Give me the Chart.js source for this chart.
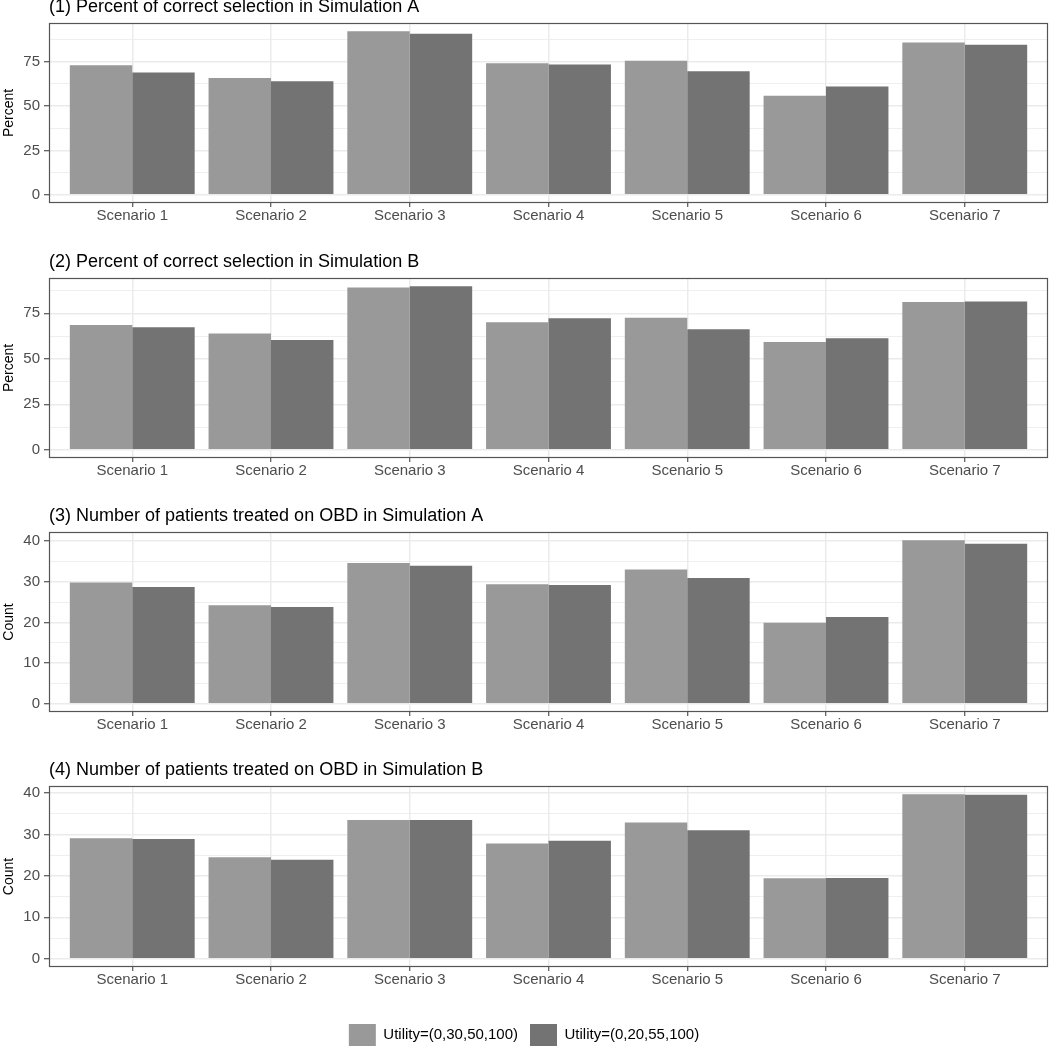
<!DOCTYPE html>
<html lang="en">
<head>
<meta charset="UTF-8">
<title>Simulation results</title>
<script src="https://cdn.jsdelivr.net/npm/chart.js"></script>
<style>
    body {
        margin: 0;
        background: #fff;
        font-family: 'Liberation Sans', Arial, sans-serif;
    }
    #wrap {
        position: relative;
        width: 1050px;
        height: 1046px;
        overflow: hidden;
    }
    canvas {
        position: absolute;
        left: 0;
    }
</style>
</head>
<body>
<div id="wrap">
    <canvas id="p1" width="1050" height="231" style="top:-4px"></canvas>
    <canvas id="p2" width="1050" height="231" style="top:251px"></canvas>
    <canvas id="p3" width="1050" height="231" style="top:505px"></canvas>
    <canvas id="p4" width="1050" height="298" style="top:759px"></canvas>
</div>
<script>
const scenarios = ['1', '2', '3', '4', '5', '6', '7'];
const seriesNames = ['Utility=(0,30,50,100)', 'Utility=(0,20,55,100)'];

// (1) percent correct, simulation A
const pctA_u1 = [72.9, 65.8, 92.1, 74.1, 75.4, 55.7, 85.7];
const pctA_u2 = [68.8, 63.9, 90.6, 73.3, 69.5, 60.9, 84.4];
// (2) percent correct, simulation B
const pctB_u1 = [68.6, 63.9, 89.2, 70.1, 72.6, 59.2, 81.2];
const pctB_u2 = [67.4, 60.4, 89.9, 72.3, 66.3, 61.3, 81.5];
// (3) patients on OBD, simulation A
const cntA_u1 = [29.8, 24.2, 34.6, 29.4, 33.0, 19.9, 40.2];
const cntA_u2 = [28.7, 23.8, 33.9, 29.2, 30.9, 21.3, 39.3];
// (4) patients on OBD, simulation B
const cntB_u1 = [29.1, 24.5, 33.5, 27.8, 32.9, 19.4, 39.7];
const cntB_u2 = [28.9, 23.9, 33.5, 28.5, 31.0, 19.5, 39.6];

const pctTicks = [0, 25, 50, 75];
const cntTicks = [0, 10, 20, 30, 40];

const FONT = "'Liberation Sans', Arial, sans-serif";
const LIGHT = '#999999';
const DARK = '#737373';
const GRID = '#ebebeb';

// ggplot style panel border drawn over the bars
const panelBorder = {
    id: 'panelBorder',
    afterDatasetsDraw(chart) {
        const a = chart.chartArea;
        const ctx = chart.ctx;
        ctx.save();
        ctx.strokeStyle = '#555';
        ctx.lineWidth = 1.2;
        ctx.strokeRect(a.left + 0.5, a.top + 0.5, a.right - a.left - 1, a.bottom - a.top - 1);
        ctx.restore();
    }
};

function makePanel(id, title, yTitle, u1, u2, majors, withLegend) {
    const step = majors[1] - majors[0];
    const dataMax = Math.max(...u1, ...u2);
    // major + minor breaks
    const yTicks = [];
    majors.forEach(v => {
        yTicks.push(v);
        if (v + step / 2 < dataMax * 1.05) yTicks.push(v + step / 2);
    });
    const isMinor = v => Math.abs(v % step) > 1e-9;

    return new Chart(document.getElementById(id), {
        type: 'bar',
        data: {
            datasets: [
                {
                    label: seriesNames[0],
                    data: u1.map((v, i) => ({ x: i + 1, y: v })),
                    backgroundColor: LIGHT
                },
                {
                    label: seriesNames[1],
                    data: u2.map((v, i) => ({ x: i + 1, y: v })),
                    backgroundColor: DARK
                }
            ]
        },
        options: {
            responsive: false,
            animation: false,
            events: [],
            categoryPercentage: 0.9,
            barPercentage: 1.0,
            layout: { padding: { top: 0, right: 2, left: 0, bottom: withLegend ? 1 : 0 } },
            plugins: {
                title: {
                    display: true,
                    text: title,
                    align: 'start',
                    fullSize: false,
                    color: '#000',
                    font: { family: FONT, size: 18, weight: 'normal' },
                    padding: { top: 0, bottom: 5.4 }
                },
                legend: {
                    display: withLegend,
                    position: 'bottom',
                    labels: {
                        boxWidth: 27,
                        boxHeight: 22,
                        padding: 12,
                        color: '#000',
                        font: { family: FONT, size: 15 }
                    }
                },
                tooltip: { enabled: false }
            },
            scales: {
                x: {
                    type: 'linear',
                    min: 0.4,
                    max: 7.6,
                    offset: false,
                    afterBuildTicks: s => { s.ticks = scenarios.map((c, i) => ({ value: i + 1 })); },
                    afterFit: s => { s.height = withLegend ? 45 : 24; },
                    grid: {
                        offset: false,
                        color: GRID,
                        lineWidth: 1.5,
                        tickColor: '#333',
                        tickWidth: 1,
                        tickLength: 4
                    },
                    border: { display: false },
                    ticks: {
                        autoSkip: false,
                        maxRotation: 0,
                        padding: 0,
                        color: '#4d4d4d',
                        font: { family: FONT, size: 15 },
                        callback: v => 'Scenario ' + scenarios[v - 1]
                    }
                },
                y: {
                    min: -0.05 * dataMax,
                    max: 1.05 * dataMax,
                    afterBuildTicks: s => { s.ticks = yTicks.map(v => ({ value: v })); },
                    afterFit: s => { s.width = 49; },
                    grid: {
                        color: GRID,
                        lineWidth: c => isMinor(c.tick.value) ? 0.8 : 1.5,
                        tickColor: c => isMinor(c.tick.value) ? 'rgba(0,0,0,0)' : '#333',
                        tickWidth: 1,
                        tickLength: 5
                    },
                    border: { display: false },
                    title: {
                        display: true,
                        text: yTitle,
                        color: '#000',
                        font: { family: FONT, size: 14 },
                        padding: { top: 1, bottom: 0 }
                    },
                    ticks: {
                        autoSkip: false,
                        padding: 4,
                        color: '#4d4d4d',
                        font: { family: FONT, size: 15 },
                        callback: v => isMinor(v) ? '' : String(v)
                    }
                }
            }
        },
        plugins: [panelBorder]
    });
}

makePanel('p1', '(1) Percent of correct selection in Simulation A', 'Percent', pctA_u1, pctA_u2, pctTicks, false);
makePanel('p2', '(2) Percent of correct selection in Simulation B', 'Percent', pctB_u1, pctB_u2, pctTicks, false);
makePanel('p3', '(3) Number of patients treated on OBD in Simulation A', 'Count', cntA_u1, cntA_u2, cntTicks, false);
makePanel('p4', '(4) Number of patients treated on OBD in Simulation B', 'Count', cntB_u1, cntB_u2, cntTicks, true);
</script>
</body>
</html>
